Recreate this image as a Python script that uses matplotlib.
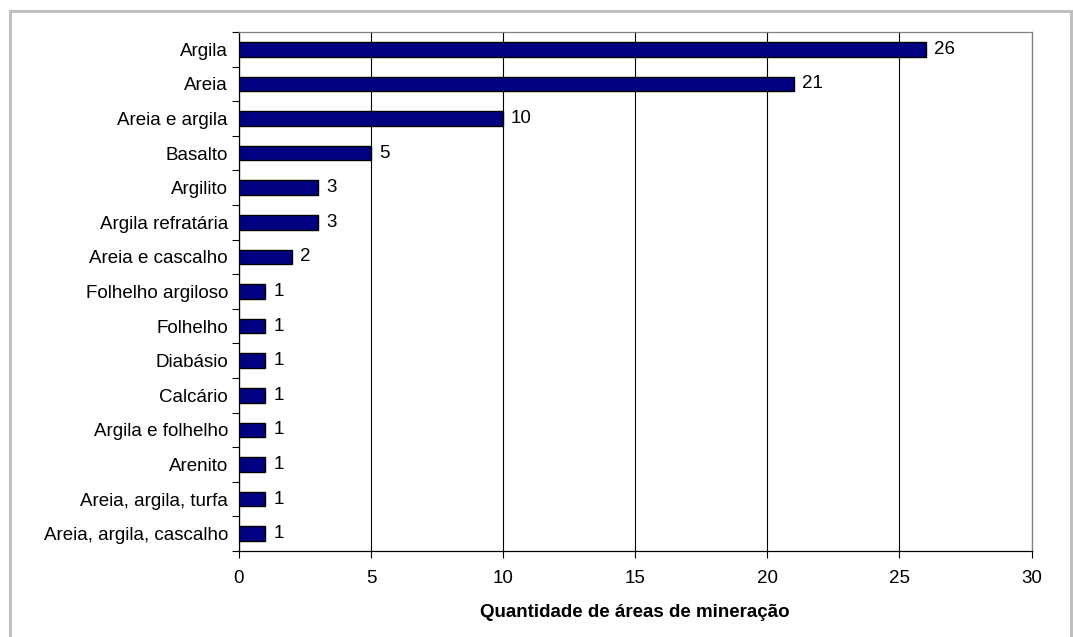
import matplotlib.pyplot as plt
from matplotlib.patches import Rectangle
from matplotlib.ticker import FixedLocator, NullFormatter

plt.rcParams["font.family"] = ["Liberation Sans", "DejaVu Sans"]

categorias = [
    "Argila",
    "Areia",
    "Areia e argila",
    "Basalto",
    "Argilito",
    "Argila refratária",
    "Areia e cascalho",
    "Folhelho argiloso",
    "Folhelho",
    "Diabásio",
    "Calcário",
    "Argila e folhelho",
    "Arenito",
    "Areia, argila, turfa",
    "Areia, argila, cascalho",
]
quantidades = [26, 21, 10, 5, 3, 3, 2, 1, 1, 1, 1, 1, 1, 1, 1]
x_ticks = [0, 5, 10, 15, 20, 25, 30]

FS = 13.5

fig = plt.figure(figsize=(10.73, 6.37), dpi=100)
fig.patches.append(Rectangle((9.5 / 1073, -0.01), (1071 - 9.5) / 1073, 1 - 10.5 / 637 + 0.01,
                             transform=fig.transFigure, fill=False,
                             edgecolor="#c0c0c0", linewidth=2.2))

ax = fig.add_axes([239 / 1073, 1 - 551 / 637, (1031.5 - 239) / 1073, (551 - 32) / 637])

n = len(categorias)
pos = list(range(n))
ax.barh(pos, quantidades, height=0.42, color="#000080", edgecolor="black", linewidth=1.0, zorder=3)
for p, v in zip(pos, quantidades):
    ax.text(v + 0.3, p, str(v), va="center", ha="left", fontsize=FS, zorder=4)

ax.set_xlim(0, 30)
ax.set_ylim(n - 0.5, -0.5)
ax.set_xticks(x_ticks)
ax.set_xticklabels([str(t) for t in x_ticks], fontsize=FS)
ax.xaxis.grid(True, color="black", linewidth=0.8, zorder=1)

ax.set_yticks(pos)
ax.set_yticklabels(categorias, fontsize=FS)
ax.tick_params(axis="y", which="major", length=0, pad=8)
ax.yaxis.set_minor_locator(FixedLocator([i - 0.5 for i in range(n + 1)]))
ax.yaxis.set_minor_formatter(NullFormatter())
ax.tick_params(axis="y", which="minor", length=5, direction="out", width=0.8)
ax.tick_params(axis="x", length=5, direction="out", width=0.8, pad=9)

for s in ["left", "bottom"]:
    ax.spines[s].set_color("black")
    ax.spines[s].set_linewidth(0.9)
for s in ["top", "right"]:
    ax.spines[s].set_color("#808080")
    ax.spines[s].set_linewidth(0.9)

ax.set_xlabel("Quantidade de áreas de mineração", fontsize=FS, fontweight="bold", labelpad=12)

fig.savefig("out.png", dpi=100)
